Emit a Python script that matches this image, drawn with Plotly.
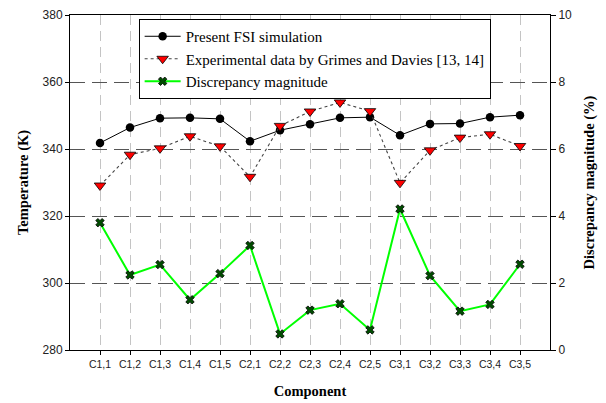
import plotly.graph_objects as go

categories = ["C1,1", "C1,2", "C1,3", "C1,4", "C1,5",
              "C2,1", "C2,2", "C2,3", "C2,4", "C2,5",
              "C3,1", "C3,2", "C3,3", "C3,4", "C3,5"]
fsi_temp = [341.8, 346.4, 349.2, 349.3, 349.0, 342.3, 345.6, 347.4,
            349.3, 349.5, 344.1, 347.5, 347.6, 349.5, 350.1]
exp_temp = [329.1, 338.3, 340.2, 343.8, 340.8, 331.7, 346.9, 351.2,
            353.9, 351.3, 329.9, 339.6, 343.4, 344.4, 340.9]
discrepancy = [3.80, 2.24, 2.55, 1.50, 2.28, 3.12, 0.48, 1.19,
               1.38, 0.60, 4.21, 2.22, 1.16, 1.36, 2.56]
temp_ticks = [280, 300, 320, 340, 360, 380]
disc_ticks = [0, 2, 4, 6, 8, 10]

xs = list(range(len(categories)))
serif = "Liberation Serif, Times New Roman, serif"
sans = "Liberation Sans, Arial, sans-serif"

fig = go.Figure()
fig.add_trace(go.Scatter(
    x=xs, y=fsi_temp, name="Present FSI simulation", mode="lines+markers",
    line=dict(color="black", width=1),
    marker=dict(symbol="circle", size=8.5, color="black"),
))
fig.add_trace(go.Scatter(
    x=xs, y=exp_temp, name="Experimental data by Grimes and Davies [13, 14]",
    mode="lines+markers",
    line=dict(color="#444444", width=1.1, dash="dot"),
    marker=dict(symbol="triangle-down", size=10, color="red",
                line=dict(color="black", width=0.8)),
))
fig.add_trace(go.Scatter(
    x=xs, y=discrepancy, name="Discrepancy magnitude", mode="lines+markers",
    yaxis="y2",
    line=dict(color="#00ff00", width=2),
    marker=dict(symbol="x", size=7.5, color="#004d00",
                line=dict(color="black", width=0.8)),
))

fig.update_layout(
    width=606, height=403,
    margin=dict(l=70, r=56, t=15, b=53),
    paper_bgcolor="white", plot_bgcolor="white",
    showlegend=True,
    legend=dict(
        x=0.143, y=0.988, xanchor="left", yanchor="top",
        bgcolor="white", bordercolor="black", borderwidth=1,
        font=dict(family=serif, size=15, color="black"),
        tracegroupgap=0, itemwidth=36,
    ),
    xaxis=dict(
        range=[-1, len(categories)], automargin=False,
        tickmode="array", tickvals=xs, ticktext=categories,
        tickfont=dict(family=sans, size=10.5, color="#222222"),
        ticks="outside", ticklen=4, tickcolor="black",
        showline=True, linecolor="black", linewidth=1, mirror=True,
        showgrid=True, gridcolor="#c4c4c4", gridwidth=1, griddash="10px,6px",
        zeroline=False,
        title=dict(text="<b>Component</b>", font=dict(family=serif, size=14.5, color="black"),
                   standoff=17),
    ),
    yaxis=dict(
        range=[temp_ticks[0], temp_ticks[-1]], automargin=False,
        tickmode="array", tickvals=temp_ticks,
        tickfont=dict(family=sans, size=12, color="#222222"),
        ticks="outside", ticklen=4, tickcolor="black",
        showline=True, linecolor="black", linewidth=1,
        showgrid=True, gridcolor="#555555", gridwidth=1.3, griddash="15px,7px",
        zeroline=False,
        title=dict(text="<b>Temperature (K)</b>", font=dict(family=serif, size=14.5, color="black"),
                   standoff=10),
    ),
    yaxis2=dict(
        range=[disc_ticks[0], disc_ticks[-1]], automargin=False,
        overlaying="y", side="right",
        tickmode="array", tickvals=disc_ticks,
        tickfont=dict(family=sans, size=12, color="#222222"),
        ticks="outside", ticklen=5, tickcolor="black",
        showline=True, linecolor="black", linewidth=1,
        showgrid=False, zeroline=False,
        title=dict(text="<b>Discrepancy magnitude (%)</b>",
                   font=dict(family=serif, size=14.5, color="black"), standoff=12),
    ),
)

fig.write_html("out.html")
